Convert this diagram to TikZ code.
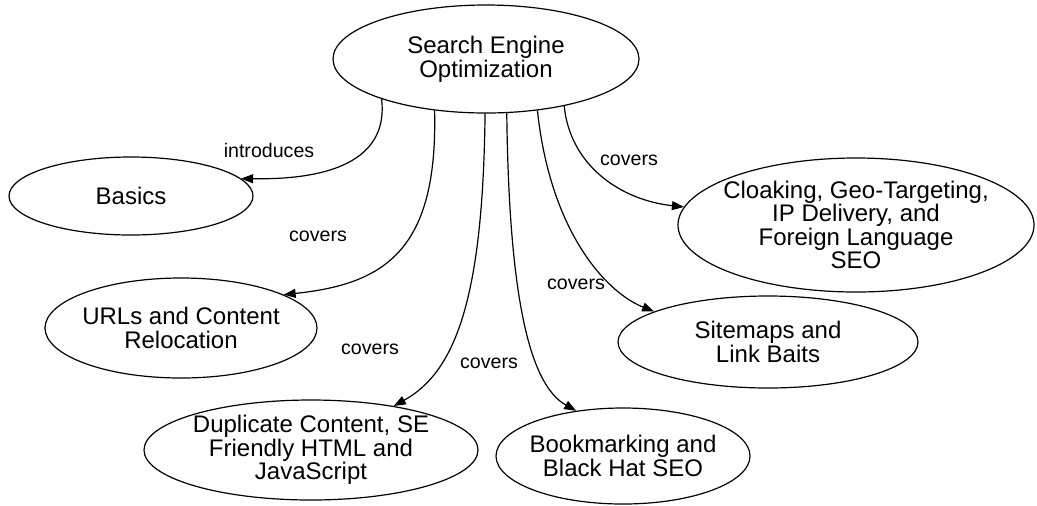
\documentclass[tikz,border=0pt]{standalone}
\usepackage{fontspec}
\setmainfont{Liberation Sans}
\usetikzlibrary{arrows.meta,shapes.geometric}

\begin{document}
\begin{tikzpicture}[x=0.5pt, y=-0.5pt, line width=0.6pt, >={Triangle[length=6pt,width=4.5pt]},
	topic/.style={draw, ellipse, inner sep=-6pt, align=center, font=\fontsize{12}{11.8}\selectfont},
	rel/.style={font=\fontsize{9.8}{10}\selectfont}]
	\useasboundingbox (0,0) rectangle (1037,505);
	\node[topic, minimum width=153pt, minimum height=54pt] (seo) at (486,59) {Search Engine\\Optimization};
	\node[topic, minimum width=122pt, minimum height=39pt] (basics) at (131,196) {Basics};
	\node[topic, minimum width=136pt, minimum height=50pt] (urls) at (181,328) {URLs and Content\\Relocation};
	\node[topic, minimum width=167pt, minimum height=50pt] (dup) at (311,450) {Duplicate Content, SE\\Friendly HTML and\\JavaScript};
	\node[topic, minimum width=127pt, minimum height=48pt] (book) at (623,456) {Bookmarking and\\Black Hat SEO};
	\node[topic, minimum width=150pt, minimum height=46pt] (site) at (768,342) {Sitemaps and\\Link Baits};
	\node[topic, minimum width=178pt, minimum height=67pt] (cloak) at (856,225) {Cloaking, Geo-Targeting,\\IP Delivery, and\\Foreign Language\\SEO};
	\draw[->] (seo.-159) .. controls (388,155) and (340,180) .. (basics.9);
	\draw[->] (seo.-135) .. controls (438,250) and (385,284) .. (urls.18);
	\draw[->] (seo.-91) .. controls (483,300) and (455,372) .. (dup.28);
	\draw[->] (seo.-69) .. controls (509,300) and (530,385) .. (book.136);
	\draw[->] (seo.-45) .. controls (550,230) and (605,292) .. (site.165);
	\draw[->] (seo.-31) .. controls (570,165) and (620,200) .. (cloak.174);
	\node[rel] (l1) at (269,150) {introduces};
	\node[rel] (l2) at (318,236) {covers};
	\node[rel] (l3) at (370,349) {covers};
	\node[rel] (l4) at (489,363) {covers};
	\node[rel] (l5) at (576,284) {covers};
	\node[rel] (l6) at (629,160) {covers};
\end{tikzpicture}
\end{document}
